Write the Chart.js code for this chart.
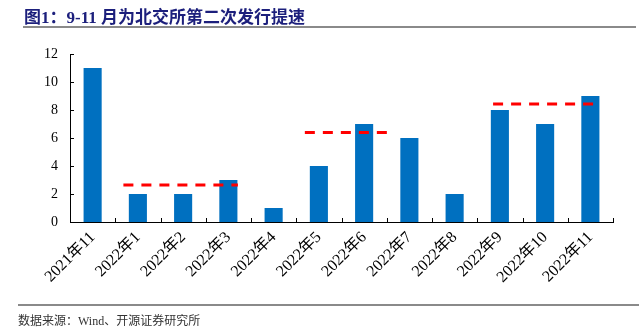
<!DOCTYPE html>
<html>
<head>
<meta charset="utf-8">
<script src="https://cdn.jsdelivr.net/npm/chart.js@4.4.1/dist/chart.umd.min.js"></script>
<style>
  body { margin: 0; width: 639px; height: 336px; background: #fff; position: relative; overflow: hidden; }
  #wrap { position: absolute; left: 0; top: 0; width: 639px; height: 336px; }
  .title { position: absolute; left: 24px; top: 3px; font: bold 17px 'Liberation Serif', 'Noto Sans CJK SC'; color: #1c1f7c; white-space: nowrap; }
  .rule { position: absolute; background: #8a8a8a; }
  .source { position: absolute; left: 18px; top: 311px; font: 12px 'Liberation Serif', 'Noto Sans CJK SC'; color: #333; white-space: nowrap; }
</style>
</head>
<body>
<div id="wrap"><canvas id="issueChart" width="639" height="336"></canvas></div>
<div class="title">图1：9-11 月为北交所第二次发行提速</div>
<div class="rule" style="left:23px;top:26px;width:613px;height:2px;"></div>
<div class="rule" style="left:18px;top:304px;width:621px;height:2px;"></div>
<div class="source">数据来源：Wind、开源证券研究所</div>
<script>
const months = ['2021年11', '2022年1', '2022年2', '2022年3', '2022年4', '2022年5',
                '2022年6', '2022年7', '2022年8', '2022年9', '2022年10', '2022年11'];
const issues = [11, 2, 2, 3, 1, 4, 7, 6, 2, 8, 7, 9];
const yTicks = [0, 2, 4, 6, 8, 10, 12];

// average level of each issuing wave, with the category span it covers
const waveLevel = [2.64, 6.4, 8.43];
const waveFrom = [0.68, 4.69, 8.85];
const waveTo = [3.21, 6.56, 11.08];

const serif = "'Liberation Serif', 'Noto Sans CJK SC'";

const waveSets = waveLevel.map((lvl, i) => ({
    type: 'line',
    xAxisID: 'x2',
    order: 0,
    data: [{ x: waveFrom[i], y: lvl }, { x: waveTo[i], y: lvl }],
    borderColor: '#ff0000',
    borderWidth: 3,
    borderDash: [10, 8],
    pointRadius: 0,
    fill: false
}));

// small tick marks pointing into the plot
const innerTicks = {
    id: 'innerTicks',
    afterDatasetsDraw(chart) {
        const ctx = chart.ctx;
        const x2 = chart.scales.x2, y = chart.scales.y;
        const area = chart.chartArea;
        ctx.save();
        ctx.strokeStyle = '#000';
        ctx.lineWidth = 1;
        ctx.beginPath();
        for (let i = 0; i <= months.length; i++) {
            const px = Math.round(x2.getPixelForValue(i - 0.5)) + 0.5;
            ctx.moveTo(px, area.bottom);
            ctx.lineTo(px, area.bottom - 4);
        }
        yTicks.forEach(v => {
            const py = Math.round(y.getPixelForValue(v)) + 0.5;
            ctx.moveTo(area.left, py);
            ctx.lineTo(area.left + 4, py);
        });
        ctx.stroke();
        ctx.restore();
    }
};

new Chart(document.getElementById('issueChart'), {
    type: 'bar',
    data: {
        labels: months,
        datasets: [{
            data: issues,
            order: 1,
            backgroundColor: '#0070c0',
            grouped: false,
            barPercentage: 0.4,
            categoryPercentage: 1.0
        }, ...waveSets]
    },
    options: {
        responsive: false,
        animation: false,
        layout: { padding: { top: 54, right: 26, left: 0, bottom: 0 } },
        plugins: { legend: { display: false }, tooltip: { enabled: false } },
        scales: {
            x: {
                grid: { display: false, drawTicks: false },
                border: { display: true, color: '#000', width: 1 },
                ticks: {
                    font: { family: serif, size: 16 },
                    color: '#000',
                    maxRotation: 45,
                    minRotation: 45,
                    padding: 6,
                    autoSkip: false
                },
                afterFit(scale) { scale.height = 114; }
            },
            // continuous index axis for the wave lines, laid out but not drawn
            x2: {
                type: 'linear',
                position: 'top',
                offset: false,
                min: -0.5,
                max: months.length - 0.5,
                grid: { display: false, drawTicks: false },
                border: { display: false },
                ticks: { display: false },
                afterFit(scale) { scale.height = 0; }
            },
            y: {
                min: 0,
                max: 12,
                grid: { display: false, drawTicks: false },
                border: { display: true, color: '#000', width: 1 },
                afterBuildTicks(scale) { scale.ticks = yTicks.map(v => ({ value: v })); },
                ticks: {
                    font: { family: serif, size: 14 },
                    color: '#000',
                    padding: 12
                },
                afterFit(scale) { scale.width = 70; }
            }
        }
    },
    plugins: [innerTicks]
});
</script>
</body>
</html>
